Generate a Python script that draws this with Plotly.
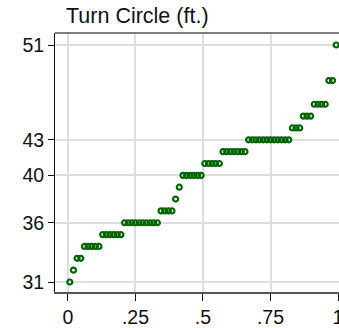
import plotly.graph_objects as go

# Turning circle of each car (ft.), sorted ascending
turn_ft = [
    31, 32, 33, 33,
    34, 34, 34, 34, 34,
    35, 35, 35, 35, 35, 35,
    36, 36, 36, 36, 36, 36, 36, 36, 36, 36,
    37, 37, 37, 37,
    38, 39,
    40, 40, 40, 40, 40, 40,
    41, 41, 41, 41, 41,
    42, 42, 42, 42, 42, 42, 42,
    43, 43, 43, 43, 43, 43, 43, 43, 43, 43, 43, 43,
    44, 44, 44,
    45, 45, 45,
    46, 46, 46, 46,
    48, 48,
    51,
]

y_ticks = [31, 36, 40, 43, 51]
x_ticks = [0, 0.25, 0.5, 0.75, 1]
x_tick_labels = ["0", ".25", ".5", ".75", "1"]

n = len(turn_ft)
# quantile plot: fraction of the data (plotting position) for each sorted value
fraction = [(i + 0.5) / n for i in range(n)]

fig = go.Figure()
fig.add_trace(go.Scatter(
    x=fraction, y=turn_ft, mode="markers",
    marker=dict(symbol="circle-open", size=5, color="#006400",
                line=dict(width=2.2, color="#006400")),
    showlegend=False, cliponaxis=False,
))

font = "Liberation Sans, Arial, sans-serif"
grid = "#dedede"

fig.update_layout(
    width=339, height=328,
    margin=dict(l=55, r=0, t=33, b=36, autoexpand=False),
    paper_bgcolor="white", plot_bgcolor="white",
    font=dict(family=font, size=19.5, color="#111111"),
    title=dict(text="Turn Circle (ft.)", xref="container", yref="container",
               x=66 / 339, xanchor="left", y=1 - 15 / 328, yanchor="middle",
               font=dict(family=font, size=21.5, color="#111111")),
    xaxis=dict(range=[-0.0481, 1.0037], tickvals=x_ticks, ticktext=x_tick_labels,
               showgrid=True, gridcolor=grid, gridwidth=2, zeroline=False,
               showline=True, linecolor="#555555", linewidth=2,
               ticks="outside", ticklen=7, tickwidth=1, tickcolor="#111111",
               ticklabeloverflow="allow", automargin=False),
    yaxis=dict(range=[30.156, 52.013], tickvals=y_ticks, automargin=False,
               showgrid=True, gridcolor=grid, gridwidth=2, zeroline=False,
               showline=True, linecolor="#111111", linewidth=1,
               ticks="outside", ticklen=6, tickwidth=1, tickcolor="#111111"),
    shapes=[dict(type="line", xref="paper", yref="paper", x0=0, x1=1, y0=1, y1=1,
                 line=dict(color="#555555", width=1.5))],
)

fig.write_html("out.html")
